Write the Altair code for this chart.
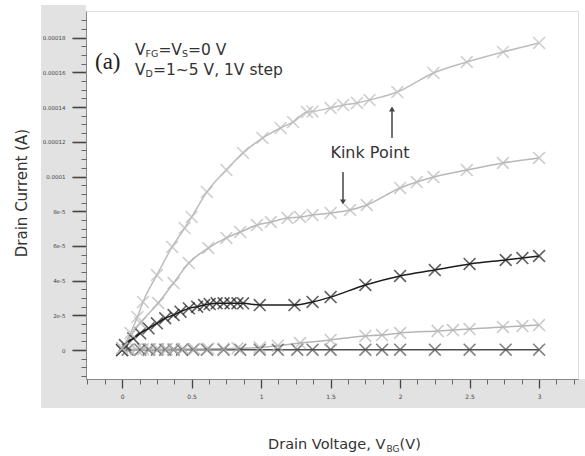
import altair as alt
import pandas as pd

# ---------------- data ----------------
series_names = ["VD=1 V", "VD=2 V", "VD=3 V", "VD=4 V", "VD=5 V"]

x_vd1 = [0, 0.04, 0.13, 0.19, 0.25, 0.31, 0.37, 0.43, 0.51, 0.61, 0.73, 0.85, 0.99, 1.12, 1.26, 1.37, 1.5, 1.75, 1.87, 2.0, 2.25, 2.5, 2.76, 3.0]
y_vd1 = [0, 0.2, 0.2, 0.2, 0.2, 0.2, 0.2, 0.2, 0.2, 0.2, 0.2, 0.2, 0.2, 0.2, 0.2, 0.2, 0.2, 0.2, 0.2, 0.2, 0.2, 0.2, 0.2, 0.2]

x_vd2 = [0, 0.05, 0.1, 0.15, 0.2, 0.26, 0.32, 0.37, 0.44, 0.52, 0.62, 0.73, 0.83, 0.99, 1.12, 1.28, 1.5, 1.75, 1.87, 2.0, 2.27, 2.38, 2.5, 2.74, 2.88, 3.0]
y_vd2 = [0, 0.5, 0.5, 0.5, 0.5, 0.5, 0.5, 0.6, 0.6, 0.6, 0.7, 0.8, 1.0, 1.5, 2.5, 4.0, 5.8, 8.1, 8.6, 9.8, 11.0, 11.5, 12.1, 13.3, 13.8, 14.4]

x_vd3 = [0, 0.02, 0.08, 0.13, 0.19, 0.25, 0.31, 0.37, 0.42, 0.48, 0.54, 0.59, 0.63, 0.68, 0.73, 0.78, 0.83, 0.87, 0.99, 1.24, 1.37, 1.5, 1.75, 2.0, 2.25, 2.5, 2.76, 2.88, 3.0]
y_vd3 = [0, 2.9, 6.7, 9.6, 12.5, 15.4, 18.3, 20.2, 22.1, 24.0, 25.0, 25.9, 26.5, 26.9, 26.9, 26.9, 26.9, 26.9, 25.9, 25.9, 27.7, 30.5, 37.5, 42.7, 46.1, 49.6, 51.9, 53.0, 54.2]

x_vd4 = [0, 0.13, 0.26, 0.37, 0.48, 0.62, 0.75, 0.85, 0.97, 1.07, 1.19, 1.28, 1.37, 1.5, 1.64, 1.76, 2.0, 2.12, 2.24, 2.48, 2.74, 3.0]
y_vd4 = [1, 15.6, 27.1, 38.6, 50.1, 58.8, 64.6, 68.0, 72.0, 73.8, 76.1, 76.7, 77.8, 79.0, 80.7, 83.6, 93.4, 96.8, 99.7, 103.7, 107.8, 110.7]

x_vd5 = [0, 0.06, 0.11, 0.15, 0.25, 0.36, 0.45, 0.5, 0.61, 0.75, 0.87, 1.01, 1.14, 1.23, 1.33, 1.37, 1.5, 1.59, 1.69, 1.78, 1.98, 2.24, 2.48, 2.74, 3.0]
y_vd5 = [1, 9.8, 19.0, 27.7, 43.2, 59.4, 70.3, 76.7, 91.1, 103.8, 113.6, 122.2, 128.0, 131.4, 137.2, 137.5, 139.5, 141.2, 142.4, 144.1, 148.7, 159.7, 166.0, 171.8, 177.0]  # micro-amps

x_major = [0, 0.5, 1, 1.5, 2, 2.5, 3]
y_major = [0, 2e-5, 4e-5, 6e-5, 8e-5, 1e-4, 1.2e-4, 1.4e-4, 1.6e-4, 1.8e-4]
x_minor = [-0.25, -0.125, 0.125, 0.25, 0.375, 0.625, 0.75, 0.875, 1.125, 1.25, 1.375, 1.625, 1.75, 1.875,
           2.125, 2.25, 2.375, 2.625, 2.75, 2.875, 3.125, 3.25]
y_minor = [-1.5e-5, -1e-5, -5e-6, 5e-6, 1e-5, 1.5e-5, 2.5e-5, 3e-5, 3.5e-5, 4.5e-5, 5e-5, 5.5e-5, 6.5e-5, 7e-5, 7.5e-5,
           8.5e-5, 9e-5, 9.5e-5, 1.05e-4, 1.1e-4, 1.15e-4, 1.25e-4, 1.3e-4, 1.35e-4, 1.45e-4, 1.5e-4, 1.55e-4,
           1.65e-4, 1.7e-4, 1.75e-4, 1.85e-4, 1.9e-4]

series_x = [x_vd1, x_vd2, x_vd3, x_vd4, x_vd5]
series_y = [y_vd1, y_vd2, y_vd3, y_vd4, y_vd5]
series_colors = ["#4d4d4d", "#b4b4b4", "#1c1c1c", "#b8b8b8", "#bdbdbd"]

rows = []
for name, xs, ys in zip(series_names, series_x, series_y):
    for k, (xv, yv) in enumerate(zip(xs, ys)):
        rows.append({"s": name, "v": xv, "i": yv * 1e-6, "k": k})
df = pd.DataFrame(rows)

# ---------------- chart ----------------
FONT = "DejaVu Sans"
XPATH = "M-1,-1L1,1M-1,1L1,-1"

# DejaVu Sans advance widths (em/2048) for laying out text pieces with subscripts
ADV = {" ": 651, "(": 799, ")": 799, ",": 651, "0": 1303, "1": 1303, "5": 1303, "=": 1716, "~": 1716,
       "B": 1405, "D": 1577, "F": 1178, "G": 1577, "S": 1300, "V": 1401, "a": 1255, "e": 1260, "g": 1300,
       "i": 569, "l": 569, "n": 1298, "o": 1253, "p": 1300, "r": 842, "s": 1067, "t": 803}


def text_width(s, size):
    return sum(ADV.get(c, 1250) for c in s) / 2048.0 * size


xscale = alt.Scale(domain=[-0.26, 3.28], nice=False, zero=False)
yscale = alt.Scale(domain=[-1.67e-5, 1.954e-4], nice=False, zero=False)
cscale = alt.Scale(domain=series_names, range=series_colors)

x_axis_major = alt.Axis(orient="bottom", values=x_major, format="~g", title=None, grid=False,
                        tickSize=9, tickWidth=1.3, tickColor="#444", domainColor="#888",
                        labelFontSize=6, labelColor="#444", labelPadding=5, zindex=1, labelFont=FONT)
y_axis_major = alt.Axis(orient="left", values=y_major, title=None, grid=False,
                        labelExpr="datum.value == 0 ? '0' : (datum.value < 9e-5 ? format(datum.value, '.0e') : format(datum.value, '~g'))",
                        tickSize=14, tickWidth=1.6, tickColor="#444", domainColor="#888",
                        labelFontSize=5.5, labelColor="#444", labelPadding=7, zindex=1, labelFont=FONT)
x_axis_minor = alt.Axis(orient="bottom", values=x_minor, labels=False, title=None, grid=False, domain=False,
                        tickSize=5, tickColor="#666", zindex=1)
y_axis_minor = alt.Axis(orient="left", values=y_minor, labels=False, title=None, grid=False, domain=False,
                        tickSize=5, tickColor="#666", zindex=1)

ox, oy = 86, 11  # plot origin on page

dummy = alt.Data(values=[{"a": 1}])


def rect(x0, x1, y0, y1, color):
    return alt.Chart(dummy).mark_rect(color=color).encode(
        x=alt.value(x0 - ox), x2=alt.value(x1 - ox), y=alt.value(y0 - oy), y2=alt.value(y1 - oy))


def txt(s, x, y, size=14, font=FONT, align="left", angle=0, color="#333"):
    return alt.Chart(dummy).mark_text(text=s, font=font, fontSize=size, align=align, baseline="middle",
                                      angle=angle, color=color).encode(
        x=alt.value(x - ox), y=alt.value(y - oy))


def chain(pieces, x0, y, size, sub_size):
    """pieces: list of (text, is_subscript); laid out left to right."""
    layers = []
    x = x0
    for s, sub in pieces:
        sz = sub_size if sub else size
        layers.append(txt(s, x, y + (4 if sub else 0), size=sz))
        x += text_width(s, sz)
    return alt.layer(*layers)


bands = rect(41, 86, 5, 408, "#e2e2e2") + rect(41, 585, 379, 408, "#e2e2e2")

base = alt.Chart(df)
lines = base.mark_line(interpolate="monotone", strokeWidth=1.5).encode(
    x=alt.X("v:Q", scale=xscale, axis=x_axis_major),
    y=alt.Y("i:Q", scale=yscale, axis=y_axis_major),
    color=alt.Color("s:N", scale=cscale, legend=None),
    order="k:Q",
)
points = base.mark_point(shape=XPATH, filled=False, size=140, strokeWidth=1.6).encode(
    x=alt.X("v:Q", scale=xscale, axis=None),
    y=alt.Y("i:Q", scale=yscale, axis=None),
    color=alt.Color("s:N", scale=cscale, legend=None),
)
minor = base.mark_point(opacity=0).encode(
    x=alt.X("v:Q", scale=xscale, axis=x_axis_minor),
    y=alt.Y("i:Q", scale=yscale, axis=y_axis_minor),
)

# arrows for "Kink Point"
arrows = (
    alt.Chart(dummy).mark_rule(color="#444", strokeWidth=1.5).encode(
        x=alt.value(392 - ox), y=alt.value(138 - oy), y2=alt.value(108 - oy))
    + alt.Chart(dummy).mark_point(shape="triangle-up", filled=True, color="#444", size=35, opacity=1).encode(
        x=alt.value(392 - ox), y=alt.value(109 - oy))
    + alt.Chart(dummy).mark_rule(color="#444", strokeWidth=1.5).encode(
        x=alt.value(343 - ox), y=alt.value(172 - oy), y2=alt.value(203 - oy))
    + alt.Chart(dummy).mark_point(shape="triangle-down", filled=True, color="#444", size=35, opacity=1).encode(
        x=alt.value(343 - ox), y=alt.value(202 - oy))
)

texts = alt.layer(
    txt("(a)", 95, 62, size=23, font="Liberation Serif", color="#222"),
    chain([("V", False), ("FG", True), ("=V", False), ("S", True), ("=0 V", False)], 135, 50, 15.5, 9.5),
    chain([("V", False), ("D", True), ("=1~5 V, 1V step", False)], 135, 70, 15.5, 9.5),
    txt("Kink Point", 370, 153, size=16, align="center"),
    chain([("Drain Voltage, V", False), ("BG", True), ("(V)", False)], 268, 445, 14.5, 9),
    txt("Drain Current (A)", 22, 193, size=15, align="center", angle=270),
)

chart = alt.layer(bands, lines, points, minor, arrows, texts).resolve_axis(
    x="independent", y="independent"
).properties(
    width=492, height=368,
    padding={"left": ox, "top": oy, "right": 585 - ox - 492, "bottom": 456 - oy - 368},
    autosize=alt.AutoSizeParams(type="none"),
).configure_view(stroke="#999", strokeWidth=1).configure(background="white")

chart.save("out.html", embed_options={"renderer": "svg", "actions": False})
